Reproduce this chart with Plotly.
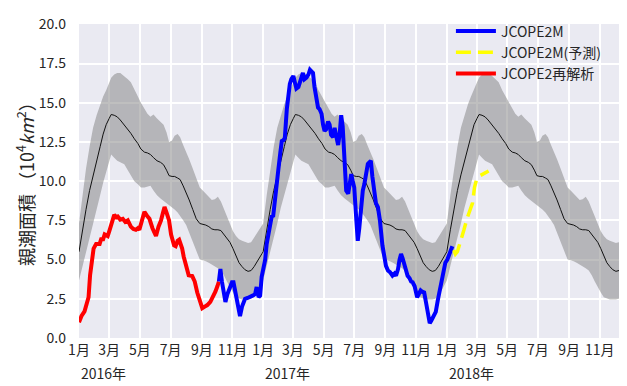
import pandas as pd
import plotly.graph_objects as go

# ---------------- data ----------------
# climatology (day-of-year -> mean / upper / lower), repeated for each year
clim_doy = [0, 7, 14, 21, 28, 35, 42, 48, 54, 60, 64, 70, 76, 82, 90, 97, 103, 110, 117, 123,
            130, 136, 142, 148, 155, 162, 168, 174, 179, 185, 190, 196, 201, 207, 213, 219, 226,
            233, 240, 246, 252, 258, 264, 270, 276, 282, 288, 294, 300, 306, 312, 318, 324, 330,
            336, 342, 348, 354, 359, 364]
clim_mean = [5.5, 6.9, 8.2, 9.4, 10.4, 11.3, 12.2, 13.0, 13.6, 14.0, 14.25, 14.2, 14.1, 13.9, 13.6, 13.3, 13.05, 12.7, 12.4, 12.05,
             11.85, 11.8, 11.7, 11.5, 11.3, 11.2, 11.05, 10.7, 10.35, 10.3, 10.3, 10.2, 10.1, 9.7, 9.3, 8.8, 8.2,
             7.6, 7.3, 7.25, 7.2, 7.1, 6.95, 6.9, 6.9, 6.85, 6.6, 6.35, 6.1, 5.7, 5.2, 4.8, 4.55, 4.35,
             4.25, 4.3, 4.55, 4.9, 5.15, 5.4]
clim_upper = [7.3, 9.1, 10.8, 12.2, 13.4, 14.2, 14.9, 15.4, 15.8, 16.3, 16.6, 16.8, 16.9, 16.9, 16.7, 16.5, 16.3, 15.8, 15.4, 15.0,
              14.6, 14.3, 14.1, 14.25, 14.0, 13.8, 13.6, 13.1, 12.5, 12.6, 12.9, 13.0, 12.8, 12.3, 11.9, 11.4, 10.8,
              10.2, 9.6, 9.4, 9.2, 9.0, 8.8, 8.85, 9.0, 8.7, 8.2, 7.7, 7.2, 6.8, 6.5, 6.3, 6.2, 6.1,
              6.05, 6.1, 6.4, 6.7, 7.0, 7.2]
clim_lower = [3.66, 4.6, 5.5, 6.3, 7.3, 8.3, 9.1, 9.9, 10.6, 11.3, 11.7, 11.5, 11.3, 11.2, 11.08, 10.7, 10.4, 10.0, 9.8, 9.6,
              9.6, 9.65, 9.7, 9.4, 9.1, 8.9, 8.75, 8.6, 8.45, 8.36, 8.2, 8.0, 7.8, 7.5, 7.2, 6.7, 6.1,
              5.5, 5.0, 4.95, 4.9, 4.8, 4.7, 4.6, 4.45, 4.3, 4.0, 3.6, 3.2, 2.9, 2.6, 2.5, 2.45, 2.45,
              2.45, 2.5, 2.7, 3.0, 3.3, 3.6]
clim_years = [2016, 2017, 2018]

# JCOPE2 reanalysis (days since 2016-01-01 -> 10^4 km^2)
rean_day = [0, 5, 11, 16, 19, 22, 26, 29, 34, 41, 44, 48, 51, 57, 61, 64, 67, 70, 74, 77, 82, 87, 92, 97,
            103, 108, 113, 117, 120, 125, 130, 135, 140, 146, 150, 153, 158, 163, 167, 170, 174, 179,
            183, 186, 189, 192, 196, 199, 202, 205, 208, 212, 218, 225, 230, 235, 240, 245, 250, 255,
            261, 266, 271, 275, 278]
rean_val = [1.0, 1.4, 1.7, 2.2, 2.6, 4.0, 5.2, 5.7, 6.0, 6.0, 6.3, 6.3, 6.6, 6.5, 6.9, 7.2, 7.7, 7.85, 7.7, 7.75, 7.55, 7.6, 7.4, 7.5,
            7.1, 6.95, 6.9, 7.0, 6.9, 7.6, 8.05, 7.8, 7.6, 7.0, 6.6, 6.5, 7.1, 7.5, 8.0, 8.35, 8.0, 7.5,
            6.6, 6.15, 5.9, 5.85, 6.2, 6.27, 6.0, 5.7, 5.2, 4.8, 4.0, 3.95, 3.6, 2.9, 2.3, 1.9, 2.0, 2.1,
            2.3, 2.6, 2.95, 3.3, 3.6]

# JCOPE2M (days since 2016-01-01 -> 10^4 km^2)
jm_day = [278, 281, 284, 288, 291, 295, 300, 304, 307, 311, 314, 317, 320, 324, 330, 335, 340, 345, 350, 353,
          357, 360, 363, 366, 370, 373, 376, 380, 383, 386, 389, 392, 396, 400, 403, 406, 409, 413, 416,
          419, 422, 426, 429, 432, 436, 439, 442, 445, 448, 452, 456, 459, 462, 465, 468, 472, 475, 478,
          482, 485, 488, 491, 495, 498, 501, 505, 508, 511, 515, 518, 521, 524, 528, 531, 535, 538, 541,
          544, 547, 551, 554, 557, 561, 564, 567, 571, 574, 577, 580, 583, 587, 590, 594, 598, 603, 607,
          610, 614, 618, 623, 627, 630, 634, 637, 640, 643, 646, 650, 653, 657, 660, 663, 667, 672, 676,
          679, 682, 686, 690, 693, 697, 700, 704, 709, 713, 718, 722, 725, 728, 732, 736, 740, 742]
jm_val = [3.6, 4.4, 3.6, 2.6, 2.3, 2.8, 3.3, 3.55, 3.55, 2.9, 2.5, 2.2, 1.4, 2.0, 2.5, 2.55, 2.6, 2.7, 2.8, 3.25,
          2.6, 2.7, 3.9, 4.4, 5.0, 6.0, 6.5, 7.2, 7.75, 7.8, 8.8, 9.6, 10.7, 11.8, 12.55, 12.6, 12.75, 14.6, 15.6,
          16.2, 16.5, 16.7, 16.3, 15.9, 16.0, 16.3, 16.5, 16.9, 16.5, 16.6, 16.8, 17.1, 17.0, 16.9, 16.0, 15.05, 14.7, 14.6,
          14.3, 13.6, 13.2, 13.3, 13.8, 13.6, 12.95, 12.8, 13.4, 12.9, 12.3, 13.0, 14.2, 13.5, 11.0, 9.4, 9.2, 9.8, 10.45,
          10.0, 9.6, 7.6, 6.2, 7.0, 8.8, 9.4, 9.8, 10.6, 11.1, 11.2, 11.3, 10.3, 9.0, 8.6, 8.35, 7.5, 5.9, 5.2,
          4.6, 4.3, 4.2, 3.97, 4.1, 3.97, 4.4, 5.0, 5.35, 5.1, 4.8, 4.3, 3.97, 3.8, 3.6, 3.55, 3.3, 2.6, 2.9,
          3.03, 2.95, 2.9, 2.2, 1.6, 0.94, 1.1, 1.4, 1.67, 2.4, 3.13, 3.76, 4.2, 4.8, 5.0, 5.4, 5.85, 5.85]

# JCOPE2M forecast (days since 2016-01-01 -> 10^4 km^2)
fc_day = [745, 748, 752, 758, 765, 771, 778, 782, 786, 790, 797, 805, 814]
fc_val = [5.6, 5.35, 5.5, 6.1, 6.9, 7.6, 8.2, 8.6, 9.6, 10.1, 10.35, 10.5, 10.65]

# axis ticks
tick_dates = ["2016-01-01", "2016-03-01", "2016-05-01", "2016-07-01", "2016-09-01", "2016-11-01",
              "2017-01-01", "2017-03-01", "2017-05-01", "2017-07-01", "2017-09-01", "2017-11-01",
              "2018-01-01", "2018-03-01", "2018-05-01", "2018-07-01", "2018-09-01", "2018-11-01"]
tick_labels = ["1月", "3月", "5月", "7月", "9月", "11月"] * 3
year_dates = ["2016-01-01", "2017-01-01", "2018-01-01"]
year_labels = ["2016年", "2017年", "2018年"]
y_ticks = [0, 2.5, 5, 7.5, 10, 12.5, 15, 17.5, 20]

# ---------------- build ----------------
t0 = pd.Timestamp("2016-01-01")
def to_dates(days):
    return [t0 + pd.Timedelta(days=d) for d in days]

cx, cm, cu, cl = [], [], [], []
for yr in clim_years:
    base = pd.Timestamp(f"{yr}-01-01")
    cx += [base + pd.Timedelta(days=d) for d in clim_doy]
    cm += clim_mean
    cu += clim_upper
    cl += clim_lower

FONT = "Noto Sans CJK JP"
TXT = "#262626"

fig = go.Figure()
fig.add_trace(go.Scatter(x=cx, y=cl, mode="lines", line=dict(width=0, color="rgba(0,0,0,0)"),
                         showlegend=False, hoverinfo="skip"))
fig.add_trace(go.Scatter(x=cx, y=cu, mode="lines", line=dict(width=0, color="rgba(0,0,0,0)"),
                         fill="tonexty", fillcolor="rgba(128,128,128,0.5)",
                         showlegend=False, hoverinfo="skip"))
fig.add_trace(go.Scatter(x=cx, y=cm, mode="lines", line=dict(width=1, color="#111111"),
                         showlegend=False))
fig.add_trace(go.Scatter(x=to_dates(rean_day), y=rean_val, mode="lines", name="JCOPE2再解析",
                         legendgroup="c", line=dict(width=4, color="#FF0000"), legendrank=3))
fig.add_trace(go.Scatter(x=to_dates(jm_day), y=jm_val, mode="lines", name="JCOPE2M",
                         legendgroup="a", line=dict(width=4, color="#0000FF"), legendrank=1))
fig.add_trace(go.Scatter(x=to_dates(fc_day), y=fc_val, mode="lines", name="JCOPE2M(予測)",
                         legendgroup="b", line=dict(width=3.5, color="#FFFF00", dash="15px,7px"), legendrank=2))

for d, lab in zip(year_dates, year_labels):
    fig.add_annotation(x=d, y=-0.112, xref="x", yref="paper", text=lab, showarrow=False,
                       xanchor="left", yanchor="middle", font=dict(family=FONT, size=14, color=TXT))

fig.add_annotation(x=-0.097, y=0.505, xref="paper", yref="paper", textangle=-90,
                   text="親潮面積 （10<sup>4</sup><i>km</i><sup>2</sup>）", showarrow=False,
                   xanchor="center", yanchor="middle", font=dict(family=FONT, size=18, color=TXT))

fig.update_layout(
    width=627, height=386,
    margin=dict(l=71, r=5, t=11, b=56),
    paper_bgcolor="white", plot_bgcolor="#EAEAF2",
    font=dict(family=FONT, size=14, color=TXT),
    legend=dict(x=0.675, y=1.027, xanchor="left", yanchor="top", bgcolor="rgba(0,0,0,0)",
                traceorder="normal", font=dict(family=FONT, size=14, color=TXT),
                itemwidth=40, tracegroupgap=2),
    xaxis=dict(range=["2016-01-01", "2018-12-31"], tickvals=tick_dates, ticktext=tick_labels,
               showgrid=True, gridcolor="white", gridwidth=1.5, zeroline=False, showline=False,
               ticks="", ticklabelstandoff=2, tickfont=dict(family=FONT, size=14, color=TXT)),
    yaxis=dict(range=[0, 20.02], tickvals=y_ticks, tickformat=".1f",
               showgrid=True, gridcolor="white", gridwidth=1.5, zeroline=False, showline=False,
               ticks="", ticklabelstandoff=12, tickfont=dict(family=FONT, size=14, color=TXT)),
)

fig.write_html("out.html")
